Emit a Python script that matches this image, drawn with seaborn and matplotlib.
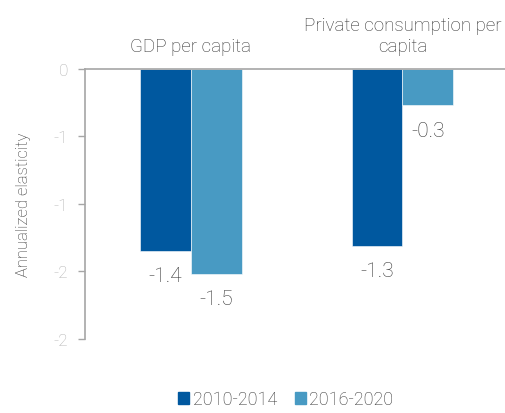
import seaborn as sns
import matplotlib.pyplot as plt
import pandas as pd

# data
categories = ["GDP per capita", "Private consumption per\ncapita"]
periods = ["2010-2014", "2016-2020"]
values_2010_2014 = [-1.35, -1.31]
values_2016_2020 = [-1.52, -0.27]
ytick_values = [0, -0.5, -1, -1.5, -2]
ytick_labels = ["0", "-1", "-1", "-2", "-2"]

df = pd.DataFrame({
    "Category": categories * 2,
    "Period": [periods[0]] * 2 + [periods[1]] * 2,
    "Value": values_2010_2014 + values_2016_2020,
})

sns.set_style("white")
plt.rcParams["font.family"] = ["Roboto", "DejaVu Sans"]
plt.rcParams["font.weight"] = "light"
plt.rcParams["axes.labelweight"] = "light"

colors = ["#00589f", "#489ac3"]
fig = plt.figure(figsize=(5.06, 4.14), dpi=100)
ax = fig.add_axes([0.168, 0.179, 0.832, 0.652])

sns.barplot(data=df, x="Category", y="Value", hue="Period", palette=colors,
            saturation=1, width=0.48, ax=ax, legend=False,
            edgecolor="white", linewidth=0.4)

ax.set_ylim(-2, 0)
ax.set_xlim(-0.5, 1.49)
ax.set_yticks(ytick_values)
ax.set_yticklabels(ytick_labels)
ax.tick_params(axis="y", colors="#a6a6a6", labelcolor="#b0b0b0", labelsize=12.5,
               length=5, width=1, left=True, pad=7)
ax.xaxis.tick_top()
ax.tick_params(axis="x", length=0, labelsize=13.5, labelcolor="#333333", pad=10)
ax.set_xlabel("")
ax.set_ylabel("Annualized elasticity", fontsize=12, color="#333333",
              fontweight="light", labelpad=16)

for side in ["bottom", "right"]:
    ax.spines[side].set_visible(False)
for side in ["left", "top"]:
    ax.spines[side].set_color("#a6a6a6")
    ax.spines[side].set_linewidth(1.2)

for container in ax.containers:
    ax.bar_label(container, fmt="%.1f", padding=11, fontsize=15, color="#333333")

handles = [plt.Rectangle((0, 0), 1, 1, color=c) for c in colors]
fig.legend(handles, periods, loc="lower center", bbox_to_anchor=(0.565, -0.028),
           ncol=2, frameon=False, fontsize=13, handlelength=0.6, handleheight=0.6,
           handletextpad=0.2, columnspacing=1.0, labelcolor="#333333")

fig.savefig("out.png", dpi=100)
plt.close(fig)
